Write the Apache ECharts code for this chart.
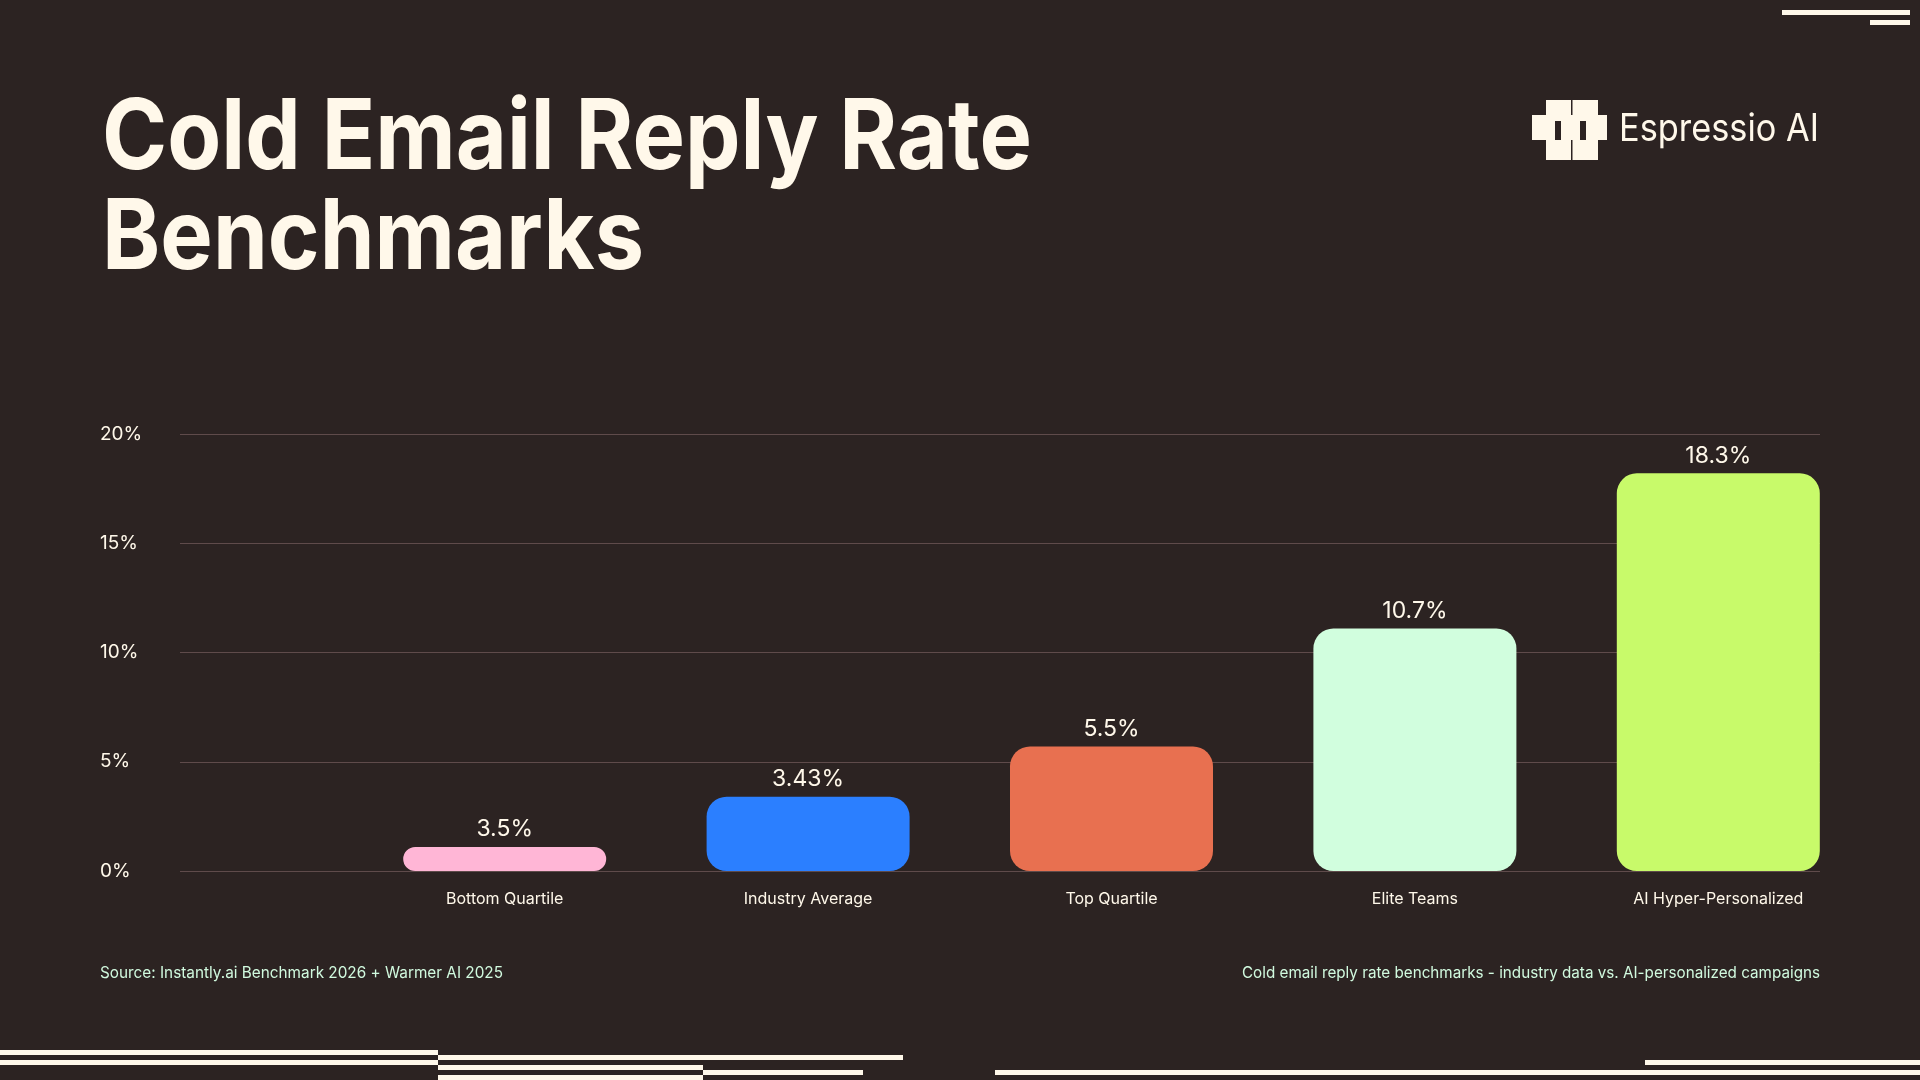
<!DOCTYPE html>
<html>
<head>
<meta charset="utf-8">
<script src="https://cdn.jsdelivr.net/npm/echarts@6/dist/echarts.min.js"></script>
<style>
html,body{margin:0;padding:0;background:#2c2322;}
#c{width:1920px;height:1080px;}
</style>
</head>
<body>
<div id="c"></div>
<script>
// ---- data ----
const categories = ['Bottom Quartile', 'Industry Average', 'Top Quartile', 'Elite Teams', 'AI Hyper-Personalized'];
const barValues = [1.1, 3.4, 5.7, 11.1, 18.2];           // bar heights as drawn (%)
const valueLabels = ['3.5%', '3.43%', '5.5%', '10.7%', '18.3%']; // labels printed above bars
const barColors = ['#ffb6d6', '#2b7fff', '#e87050', '#d1fede', '#c8fa6a'];
const yTickValues = [0, 5, 10, 15, 20];
const titleLines = ['Cold Email Reply Rate', 'Benchmarks'];
const brandName = 'Espressio AI';
const sourceText = 'Source: Instantly.ai Benchmark 2026 + Warmer AI 2025';
const noteText = 'Cold email reply rate benchmarks - industry data vs. AI-personalized campaigns';

// ---- styles ----
const BG = '#2c2322';
const CREAM = '#fff8ea';
const MINT = '#d1fadf';
const GRID_LINE = '#5f4b4b';
const FONT = 'Inter, "Liberation Sans", sans-serif';

function fitScale(text, font, target) {
  const ctx = document.createElement('canvas').getContext('2d');
  ctx.font = font;
  const w = ctx.measureText(text).width;
  return w > 0 ? target / w : 1;
}

const titleFont = 'bold 98px Inter';
const titleScale = fitScale(titleLines[0], titleFont, 930);
const brandFont = '400 38px Inter';
const brandScale = fitScale(brandName, brandFont, 200);
const footFont = '400 16px Inter';
const sourceScale = fitScale(sourceText, footFont, 403);
const noteScale = fitScale(noteText, footFont, 578);

function bar(x1, y1, x2, y2, fill) {
  return { type: 'rect', silent: true, shape: { x: x1, y: y1, width: x2 - x1, height: y2 - y1 }, style: { fill: fill || CREAM } };
}

const graphics = [
  // title
  { type: 'text', x: 102, y: 140, scaleX: titleScale, style: { text: titleLines[0], font: titleFont, fill: CREAM, align: 'left', verticalAlign: 'middle' } },
  { type: 'text', x: 102, y: 240, scaleX: titleScale, style: { text: titleLines[1], font: titleFont, fill: CREAM, align: 'left', verticalAlign: 'middle' } },
  // brand
  { type: 'text', x: 1819, y: 130, scaleX: brandScale, style: { text: brandName, font: brandFont, fill: CREAM, align: 'right', verticalAlign: 'middle' } },
  // logo mark
  bar(1532, 115, 1607, 140),
  bar(1546, 100, 1571, 160),
  bar(1572.5, 100, 1598, 160),
  bar(1555, 121, 1561, 140, BG),
  bar(1580, 121, 1586, 140, BG),
  // footer texts
  { type: 'text', x: 100, y: 973, scaleX: sourceScale, style: { text: sourceText, font: footFont, fill: MINT, align: 'left', verticalAlign: 'middle' } },
  { type: 'text', x: 1820, y: 973, scaleX: noteScale, style: { text: noteText, font: footFont, fill: MINT, align: 'right', verticalAlign: 'middle' } },
  // decorative stripes top right
  bar(1782, 10, 1910, 15),
  bar(1870, 20, 1910, 25),
  // decorative stripes bottom
  bar(0, 1050, 438, 1055),
  bar(438, 1055, 903, 1060),
  bar(0, 1060, 438, 1065),
  bar(438, 1065, 703, 1070),
  bar(703, 1070, 863, 1075),
  bar(438, 1075, 703, 1080),
  bar(1645, 1060, 1920, 1065),
  bar(995, 1070, 1920, 1075)
];

const chart = echarts.init(document.getElementById('c'), null, { renderer: 'canvas', width: 1920, height: 1080 });

chart.setOption({
  backgroundColor: BG,
  animation: false,
  textStyle: { fontFamily: FONT },
  grid: [
    { left: 180, right: 100, top: 434, height: 437 },
    { left: 353, right: 50, top: 434, height: 437 }
  ],
  xAxis: [
    { gridIndex: 0, type: 'category', data: categories, show: false },
    {
      gridIndex: 1, type: 'category', data: categories,
      axisLine: { show: false }, axisTick: { show: false },
      axisLabel: { color: CREAM, fontSize: 16, fontFamily: FONT, margin: 20 }
    }
  ],
  yAxis: [
    {
      gridIndex: 0, type: 'value', min: yTickValues[0], max: yTickValues[yTickValues.length - 1], interval: 5,
      axisLine: { show: false }, axisTick: { show: false },
      splitLine: { show: true, lineStyle: { color: GRID_LINE, width: 1 } },
      axisLabel: { color: CREAM, fontSize: 19, fontFamily: FONT, align: 'left', margin: 80, formatter: v => v + '%' }
    },
    { gridIndex: 1, type: 'value', min: 0, max: 20, interval: 5, show: false, splitLine: { show: false } }
  ],
  series: [{
    type: 'bar',
    xAxisIndex: 1,
    yAxisIndex: 1,
    barWidth: 203,
    data: barValues.map((v, i) => ({ value: v, itemStyle: { color: barColors[i] } })),
    itemStyle: { borderRadius: 20 },
    label: {
      show: true, position: 'top', distance: 6,
      color: CREAM, fontSize: 23, fontFamily: FONT,
      formatter: p => valueLabels[p.dataIndex]
    }
  }],
  graphic: graphics
});
</script>
</body>
</html>
